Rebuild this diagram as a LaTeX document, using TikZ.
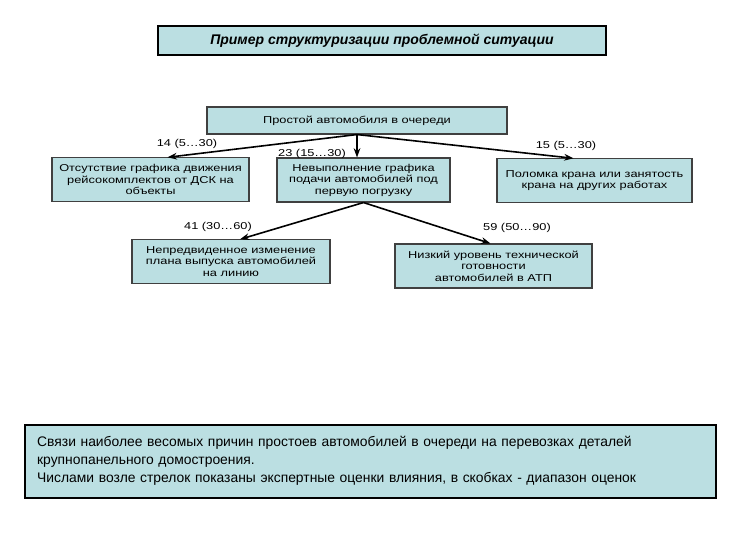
\documentclass[tikz,border=0pt]{standalone}
\usepackage{fontspec}
\setmainfont{Liberation Sans}
\newfontfamily\boitefont[FakeStretch=1.28]{Liberation Sans}
\usepackage{tikz}
\usepackage{xcolor}
\usetikzlibrary{arrows.meta,calc}
\definecolor{Bleu}{RGB}{187,223,226}
\tikzset{
Titre/.style={
 draw=black, 
 line width=1.5pt, 
 fill=Bleu, 
 minimum width=336pt, 
 minimum height=21.75pt, 
 font=\fontsize{10.5}{12}\selectfont\bfseries\itshape
 },
Boite/.style={
 draw=black!75, 
 line width=0.8pt, 
 fill=Bleu, 
 align=center, 
 inner sep=1pt, 
 minimum height=32.5pt, 
 font=\boitefont\fontsize{7.5}{8.6}\selectfont
 },
Note/.style={
 font=\boitefont\fontsize{7.5}{9}\selectfont, 
 inner sep=1pt
 },
Fleche/.style={
 draw=black, 
 line width=1.2pt, 
 -{Stealth[length=7pt,width=5pt]}
 },
Legende/.style={
 draw=black, 
 line width=1.5pt, 
 fill=Bleu, 
 minimum width=518.25pt, 
 minimum height=54.75pt, 
 inner xsep=9pt, 
 text width=500pt, 
 align=left, 
 font=\fontsize{10.4}{13.5}\selectfont
 }
}
\begin{document}
\begin{tikzpicture}[x=0.75pt,y=-0.75pt,thick]
\useasboundingbox (0,0) rectangle (737,540);
\node[Titre] (titre) at (382,40.5) {Пример структуризации проблемной ситуации};
\node[Boite,minimum width=225pt,minimum height=20.25pt] (prostoi) at (357,120.5) {Простой автомобиля в очереди};
\node[Boite,minimum width=147.75pt] (grafik) at (150.5,179.5) {Отсутствие графика движения\\рейсокомплектов от ДСК на\\объекты};
\node[Boite,minimum width=129.75pt,minimum height=33pt] (podacha) at (363.5,180) {Невыполнение графика\\подачи автомобилей под\\первую погрузку};
\node[Boite,minimum width=146.25pt] (kran) at (594.5,180.5) {Поломка крана или занятость\\крана на других работах};
\node[Boite,minimum width=148.5pt] (plan) at (231,261.5) {Непредвиденное изменение\\плана выпуска автомобилей\\на линию};
\node[Boite,minimum width=147.75pt,minimum height=33pt] (gotov) at (493.5,266) {Низкий уровень технической\\готовности\\автомобилей в АТП};
\draw[Fleche] (prostoi.south) -- ($(grafik.north)+(17,0)$);
\draw[Fleche] (prostoi.south) -- (prostoi.south |- podacha.north);
\draw[Fleche] (prostoi.south) -- ($(kran.north)+(-21,0)$);
\draw[Fleche] (podacha.south) -- ($(plan.north)+(9,0)$);
\draw[Fleche] (podacha.south) -- ($(gotov.north)+(-3,0)$);
\node[Note] (n14) at (187,144) {14 (5…30)};
\node[Note] (n23) at (312,154) {23 (15…30)};
\node[Note] (n15) at (566,146) {15 (5…30)};
\node[Note] (n41) at (218,227) {41 (30…60)};
\node[Note] (n59) at (517,228) {59 (50…90)};
\node[Legende] (legende) at (370.5,461) {Связи наиболее весомых причин простоев автомобилей в очереди на перевозках деталей\\крупнопанельного домостроения.\\Числами возле стрелок показаны экспертные оценки влияния, в скобках - диапазон оценок};
\end{tikzpicture}
\end{document}
